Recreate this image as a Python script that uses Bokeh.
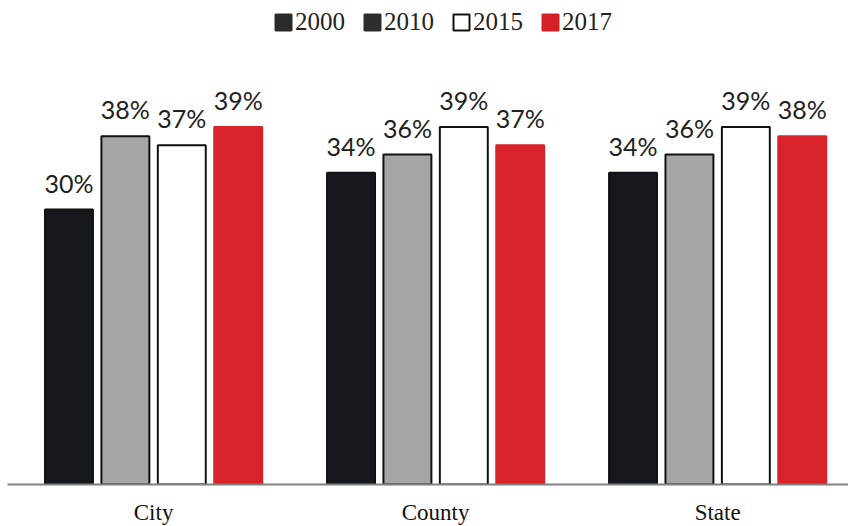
from bokeh.plotting import figure
from bokeh.models import ColumnDataSource, Range1d, FixedTicker, Legend, LegendItem
from bokeh.transform import dodge
from bokeh.core.properties import value
from bokeh.embed import file_html
from bokeh.resources import INLINE

# Share of households by area and year (percent)
categories = ["City", "County", "State"]
years = ["2000", "2010", "2015", "2017"]
share_2000 = [30, 34, 34]
share_2010 = [38, 36, 36]
share_2015 = [37, 39, 39]
share_2017 = [39, 37, 38]

series = [share_2000, share_2010, share_2015, share_2017]
fills = ["#15191d", "#a6a6a6", "#ffffff", "#d9232a"]
outlines = ["#111111", "#111111", "#111111", "#d9232a"]
legend_fills = ["#2a2a2a", "#2e2e2e", "#ffffff", "#d42027"]
offsets = [-0.3, -0.1, 0.1, 0.3]
bar_width = 0.17

xpos = list(range(len(categories)))

p = figure(
    frame_width=841, frame_height=484,
    x_range=Range1d(-0.518, 2.464), y_range=Range1d(0, 52.8),
    output_backend="svg", toolbar_location=None,
    min_border_left=7, min_border_right=0, min_border_top=0, min_border_bottom=0,
)
p.outline_line_color = None
p.xgrid.visible = False
p.ygrid.visible = False
p.yaxis.visible = False
p.background_fill_color = "white"
p.border_fill_color = "white"

for yr, vals, fc, lc, off in zip(years, series, fills, outlines, offsets):
    src = ColumnDataSource(dict(x=xpos, top=vals, label=[f"{v}%" for v in vals]))
    p.vbar(x=dodge("x", off), top="top", bottom=0, width=bar_width, source=src,
           fill_color=fc, line_color=lc, line_width=2)
    p.text(x=dodge("x", off), y="top", text="label", source=src,
           text_align="center", text_baseline="alphabetic", y_offset=-27,
           text_font=value("Lato"), text_font_size="25px", text_color="#222222")

# Legend swatches: zero-size bars at the baseline, used only for their legend glyph
items = []
for yr, lf in zip(years, legend_fills):
    sw = ColumnDataSource(dict(x=xpos, top=[0] * len(xpos)))
    r = p.vbar(x="x", top="top", bottom=0, width=0, source=sw, fill_color=lf,
               line_color="#111111" if lf == "#ffffff" else lf, line_width=2)
    items.append(LegendItem(label=yr, renderers=[r]))

legend = Legend(items=items, orientation="horizontal", location=(266, 448),
                glyph_width=20, glyph_height=20, label_standoff=2, spacing=17,
                padding=0, margin=0, border_line_color=None, background_fill_alpha=0,
                label_text_font="Liberation Serif", label_text_font_size="25px",
                label_text_color="#222222")
p.add_layout(legend)

ax = p.xaxis[0]
ax.ticker = FixedTicker(ticks=xpos)
ax.major_label_overrides = {i: c for i, c in zip(xpos, categories)}
ax.major_tick_line_color = None
ax.minor_tick_line_color = None
ax.axis_line_color = "#808080"
ax.axis_line_width = 2
ax.major_label_standoff = 9
ax.major_label_text_font = "Liberation Serif"
ax.major_label_text_font_size = "23px"
ax.major_label_text_color = "#111111"

open("out.html", "w").write(file_html(p, INLINE))
